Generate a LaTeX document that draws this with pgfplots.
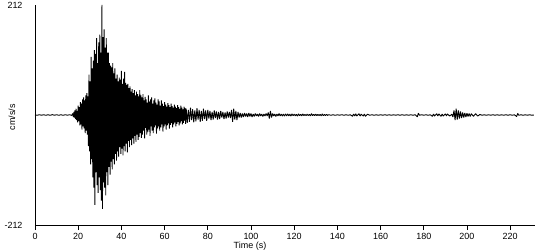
\documentclass[border=0pt]{standalone}
\usepackage{pgfplots}
\pgfplotsset{compat=1.18}
\usepackage{fontspec}
\setmainfont{Liberation Sans}
\begin{document}
\begin{tikzpicture}
\begin{axis}[
  at={(0,0)}, anchor=south west,
  scale only axis, width=500bp, height=220bp,
  xmin=0, xmax=231.5, ymin=-212, ymax=212,
  axis x line=bottom, axis y line=left,
  axis line style={-, line width=0.8bp},
  xtick={0,20,...,220}, ytick={-212,212},
  tick align=outside, major tick length=5bp,
  tick style={line width=0.8bp, black},
  ytick style={draw=none},
  yticklabel style={xshift=-4bp},
  /pgf/number format/assume math mode=true,
  tick label style={font=\fontsize{9}{10}\selectfont},
  label style={font=\fontsize{9}{10}\selectfont},
  xlabel={Time (s)},
  xlabel style={at={(axis description cs:0.43,-0.098)}, anchor=center},
  ylabel={cm/s/s},
  ylabel style={at={(axis description cs:-0.046,0.49)}, anchor=center},
  clip=false,
]
\addplot[black, line width=0.9bp, line join=bevel, mark=none] coordinates {
(0,0.3)(1,-0.6)(2,0.6)(3,-0.5)(4,0.6)(5,-0.6)(6,0.5)(7,-0.6)(8,0.7)(9,-0.5)(10,0.6)(11,-0.6)(12,0.5)(13,-0.6)(14,0.6)(15,-0.5)(16,0.6)(17,-0.8)
(17.50,3)(17.75,-4)(18.00,6)(18.25,-5)(18.50,9)(18.75,-8)(19.00,12)(19.25,-10)(19.50,8)(19.75,-14)
(20.00,18)(20.25,-12)(20.50,15)(20.75,-20)(21.00,25)(21.25,-18)(21.50,22)(21.75,-28)(22.00,30)(22.25,-22)
(22.50,34)(22.75,-26)(23.00,28)(23.25,-35)(23.50,38)(23.75,-30)(24.00,42)(24.25,-38)(24.50,36)(24.75,-60)
(25.00,78)(25.25,-70)(25.50,65)(25.75,-95)(26.00,112)(26.25,-85)(26.50,90)(26.75,-120)(27.00,105)(27.25,-140)
(27.50,125)(27.75,-173)(28.00,118)(28.25,-110)(28.50,148)(28.75,-135)(29.00,100)(29.25,-150)(29.50,140)(29.75,-120)
(30.00,155)(30.25,-145)(30.50,120)(30.75,-165)(31.00,212)(31.25,-181)(31.50,150)(31.75,-130)(32.00,165)(32.25,-140)
(32.50,130)(32.75,-155)(33.00,148)(33.25,-110)(33.50,120)(33.75,-135)(34.00,120)(34.25,-100)(34.50,100)(34.75,-115)
(35.00,95)(35.25,-90)(35.50,92)(35.75,-105)(36.00,100)(36.25,-85)(36.50,80)(36.75,-95)(37.00,90)(37.25,-75)
(37.50,70)(37.75,-88)(38.00,78)(38.25,-70)(38.50,65)(38.75,-80)(39.00,72)(39.25,-62)(39.50,68)(39.75,-75)
(40.00,85)(40.25,-65)(40.50,60)(40.75,-78)(41.00,70)(41.25,-60)(41.50,83)(41.75,-70)(42.00,62)(42.25,-55)
(42.50,58)(42.75,-72)(43.00,60)(43.25,-50)(43.50,52)(43.75,-62)(44.00,55)(44.25,-48)(44.50,45)(44.75,-58)
(45.00,50)(45.25,-45)(45.50,42)(45.75,-55)(46.00,48)(46.25,-40)(46.50,38)(46.75,-52)(47.00,45)(47.25,-38)
(47.50,40)(47.75,-48)(48.00,36)(48.25,-42)(48.50,48)(48.75,-35)(49.00,38)(49.25,-44)(49.50,34)(49.75,-38)
(50.00,40)(50.25,-30)(50.50,28)(50.75,-45)(51.00,35)(51.25,-25)(51.50,30)(51.75,-38)(52.00,24)(52.25,-32)
(52.50,38)(52.75,-28)(53.00,26)(53.25,-40)(53.50,30)(53.75,-22)(54.00,34)(54.25,-30)(54.50,22)(54.75,-35)
(55.00,28)(55.25,-24)(55.50,32)(55.75,-20)(56.00,24)(56.25,-36)(56.50,20)(56.75,-26)(57.00,30)(57.25,-22)
(57.50,26)(57.75,-30)(58.00,18)(58.25,-24)(58.50,28)(58.75,-18)(59.00,22)(59.25,-32)(59.50,17)(59.75,-22)
(60.00,25)(60.25,-18)(60.50,20)(60.75,-28)(61.00,16)(61.25,-20)(61.50,23)(61.75,-16)(62.00,19)(62.25,-26)
(62.50,15)(62.75,-19)(63.00,22)(63.25,-15)(63.50,17)(63.75,-24)(64.00,14)(64.25,-18)(64.50,20)(64.75,-14)
(65.00,16)(65.25,-22)(65.50,13)(65.75,-17)(66.00,19)(66.25,-13)(66.50,15)(66.75,-20)(67.00,12)(67.25,-16)
(67.50,18)(67.75,-12)(68.00,14)(68.25,-18)(68.50,11)(68.75,-15)(69.00,16)(69.25,-11)(69.50,13)(69.75,-17)
(70.0,12)(70.5,-15)(71.0,10)(71.5,-13)(72.0,14)(72.5,-10)(73.0,11)(73.5,-14)(74.0,9)(74.5,-12)
(75.0,13)(75.5,-9)(76.0,10)(76.5,-13)(77.0,8)(77.5,-11)(78.0,12)(78.5,-8)(79.0,9)(79.5,-11)
(80.0,10)(80.5,-7)(81.0,8)(81.5,-10)(82.0,6)(82.5,-9)(83.0,9)(83.5,-6)(84.0,7)(84.5,-9)
(85.0,6)(85.5,-8)(86.0,8)(86.5,-5)(87.0,6)(87.5,-8)(88.0,5)(88.5,-7)(89.0,7)(89.5,-5)
(90.0,6)(90.5,-6)(91.0,10)(91.5,-13)(92.0,12)(92.5,-9)(93.0,8)(93.5,-10)(94.0,6)(94.5,-5)
(95.0,4)(95.5,-5)(96.0,3)(96.5,-4)(97.0,4)(97.5,-3)(98.0,3)(98.5,-4)(99.0,4)(99.5,-3)
(100.0,3)(100.5,-4)(101.0,2)(101.5,-3)(102.0,3)(102.5,-2)(103.0,2)(103.5,-3)(104.0,3)(104.5,-2)
(105.0,2)(105.5,-3)(106.0,2)(106.5,-2)(107.0,3)(107.5,-2)(108.0,5)(108.5,-7)(109.0,8)(109.5,-5)
(110.0,3)(110.5,-2)(111.0,2)(111.5,-3)(112.0,2)(112.5,-2)(113.0,3)(113.5,-2)(114.0,2)(114.5,-2)
(115.0,1.5)(115.5,-2)(116.0,2)(116.5,-1.5)(117.0,2)(117.5,-1.5)(118.0,1.5)(118.5,-2)(119.0,2)(119.5,-1.2)
(120.0,1.5)(120.5,-1.5)(121.0,1.2)(121.5,-2)(122.0,2)(122.5,-1.2)(123.0,1.2)(123.5,-1.5)(124.0,2)(124.5,-1.2)
(125.0,1.2)(125.5,-1.2)(126.0,1.5)(126.5,-1.2)(127.0,1.2)(127.5,-1.5)(128.0,2.5)(128.5,-1.2)(129.0,1.2)(129.5,-1.2)
(130.0,1.5)(130.5,-1.2)(131.0,1.2)(131.5,-1.2)(132.0,1.2)(132.5,-1.5)(133.0,2)(133.5,-1.2)(134.0,1.0)(134.5,-1.0)
(135.0,1.0)(135.5,-0.8)
(136,0.6)(137,-0.5)(138,0.5)(139,-0.6)(140,0.5)(141,-0.5)(142,0.6)(143,-0.5)(144,0.5)(145,-0.5)
(146,0.5)(147,-2.5)(147.5,2)(148,-2)(148.5,2.5)(149,-2)(150,2.5)(150.5,-2)(151,1.5)(152,-2)
(152.5,2)(153,-2.5)(154,1.5)(155,-0.5)(156,0.5)(157,-0.5)(158,0.5)(159,-0.5)(160,0.5)(161,-0.5)
(162,0.5)(163,-0.5)(164,0.5)(165,-0.5)(166,0.5)(167,-0.5)(168,0.5)(169,-0.5)(170,0.5)(171,-0.5)
(172,0.5)(173,-0.5)(174,0.5)(175,-0.5)(176,0.5)(177,-3.5)(177.5,3.5)(178,-0.5)(179,0.5)(180,-0.5)
(181,0.5)(182,-0.5)(183,0.5)(184,-2.5)(184.5,2)(185,-2)(186,2.5)(186.5,-2)(187,2)(188,-2.5)
(188.5,2)(189,-2)(190,2)(190.5,-1.5)(191,2)(192,-2)(193,1.5)(193.5,-4)
(194,9)(194.5,-10)(195,12)(195.5,-9)(196,9)(196.5,-7)(197,7)(197.5,-6)(198,5)(198.5,-5)
(199,4)(199.5,-4)(200,3.5)(200.5,-3)(201,3)(201.5,-3)(202,2.5)(203,-2.5)(204,2.5)(205,-2)
(206,1)(207,-0.5)(208,0.5)(209,-0.5)(210,0.5)(211,-0.5)(212,0.5)(213,-0.5)(214,0.5)(215,-0.5)
(216,0.5)(217,-0.5)(218,0.5)(219,-0.5)(220,0.5)(221,-0.5)(222,0.5)(223,-3)(223.5,3)(224,-0.5)
(225,0.5)(226,-0.5)(227,0.5)(228,-0.5)(229,0.5)(230,-0.5)(231,0)
};
\end{axis}
\pgfresetboundingbox
\path[use as bounding box] (-35bp,-25bp) rectangle (515bp,225bp);
\end{tikzpicture}
\end{document}
